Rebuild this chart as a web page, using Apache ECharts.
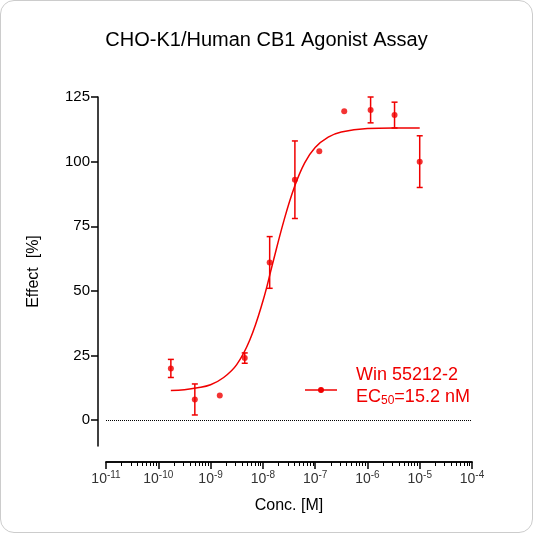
<!DOCTYPE html>
<html><head><meta charset="utf-8">
<script src="https://cdn.jsdelivr.net/npm/echarts@6/dist/echarts.min.js"></script>
<style>html,body{margin:0;padding:0;background:#fff}#c{width:531px;height:531px;border:1px solid #ccc;border-radius:14px;overflow:hidden}</style>
</head><body><div id="c"></div>
<script>
const conc=[1.74e-10,5e-10,1.5e-9,4.5e-9,1.35e-8,4.1e-8,1.2e-7,3.6e-7,1.15e-6,3.3e-6,1e-5];
const effect=[20,8,9.5,24,61,93,104,119.5,120,118,100];
const errs=[3.5,6,0,2,10,15,0,0,5,5,10];
const curveLogX=[-9.76,-9.5,-9.25,-9,-8.75,-8.5,-8.25,-8,-7.82,-7.6,-7.4,-7.2,-7,-6.75,-6.5,-6,-5.5,-5];
const curveY=[11.5,11.8,12.5,13.7,16.5,21.5,31,46,60,77,90,99.5,105.5,109.5,111.5,112.8,113,113];
const xTicks=[-11,-10,-9,-8,-7,-6,-5,-4];
const yTicks=[0,25,50,75,100,125];
const red='#f00000';
const minor=[];for(let e=-11;e<-4;e++)for(let k=2;k<=9;k++)minor.push(e+Math.log10(k));
const lx=conc.map(Math.log10);
const ax={type:'value',min:-11,max:-4,position:'bottom',offset:16,axisLine:{show:true,onZero:false,lineStyle:{color:'#000',width:1.5}},splitLine:{show:false}};
const c=echarts.init(document.getElementById('c'));
c.setOption({
 title:{text:'CHO-K1/Human CB1 Agonist Assay',left:'center',top:24,textStyle:{fontFamily:'Liberation Sans',fontWeight:'normal',fontSize:20,color:'#000'}},
 grid:{left:105,right:60,top:96,bottom:86},
 xAxis:[Object.assign({},ax,{name:'Conc. [M]',nameLocation:'middle',nameGap:36,nameTextStyle:{fontSize:16,color:'#000',fontFamily:'Liberation Sans'},
   axisTick:{customValues:xTicks,length:7,lineStyle:{width:1.5}},
   axisLabel:{customValues:xTicks,color:'#333',margin:8,formatter:v=>'{b|10}{s|'+v+'}',
     rich:{b:{fontSize:14,color:'#333',fontFamily:'Liberation Sans'},s:{fontSize:10,color:'#333',verticalAlign:'top',padding:[0,0,8,0],fontFamily:'Liberation Sans'}}}}),
  Object.assign({},ax,{axisTick:{customValues:minor,length:4},axisLabel:{show:false}})],
 yAxis:{type:'value',min:-10,max:125,offset:8,name:'Effect  [%]',nameLocation:'middle',nameGap:56,nameTextStyle:{fontSize:16,color:'#000',fontFamily:'Liberation Sans'},
  axisLine:{show:true,lineStyle:{color:'#000',width:1.5}},splitLine:{show:false},
  axisTick:{show:true,customValues:yTicks,length:7,lineStyle:{width:1.5}},
  axisLabel:{customValues:yTicks,fontSize:15,color:'#000',fontFamily:'Liberation Sans'}},
 series:[
  {type:'line',data:curveLogX.map((x,i)=>[x,curveY[i]]),smooth:0.4,symbol:'none',lineStyle:{color:red,width:1.5},
   markLine:{silent:true,symbol:'none',label:{show:false},lineStyle:{color:'#000',type:'dotted',width:1},data:[{yAxis:0}]}},
  {type:'scatter',data:lx.map((x,i)=>[x,effect[i]]),symbolSize:6,itemStyle:{color:red}},
  {type:'custom',data:lx.map((x,i)=>[x,effect[i],errs[i]]),renderItem:(p,api)=>{
    const x=api.value(0),y=api.value(1),e=api.value(2);if(!e)return;
    const a=api.coord([x,y+e]),b=api.coord([x,y-e]);
    const s={stroke:red,lineWidth:1.5};
    return {type:'group',children:[
     {type:'line',shape:{x1:a[0],y1:a[1],x2:b[0],y2:b[1]},style:s},
     {type:'line',shape:{x1:a[0]-3,y1:a[1],x2:a[0]+3,y2:a[1]},style:s},
     {type:'line',shape:{x1:b[0]-3,y1:b[1],x2:b[0]+3,y2:b[1]},style:s}]};
  }}
 ],
 graphic:[
  {type:'line',shape:{x1:304,y1:389,x2:336,y2:389},style:{stroke:red,lineWidth:1.5}},
  {type:'circle',shape:{cx:320,cy:389,r:3},style:{fill:red}},
  {type:'text',left:355,top:365,style:{text:'Win 55212-2',fill:red,fontSize:18,fontFamily:'Liberation Sans'}},
  {type:'text',left:355,top:387,style:{text:'EC{s|50}=15.2 nM',fill:red,fontSize:18,fontFamily:'Liberation Sans',rich:{s:{fontSize:12,fill:red,verticalAlign:'bottom',padding:[8,0,0,0]}}}}
 ]
});
</script></body></html>
